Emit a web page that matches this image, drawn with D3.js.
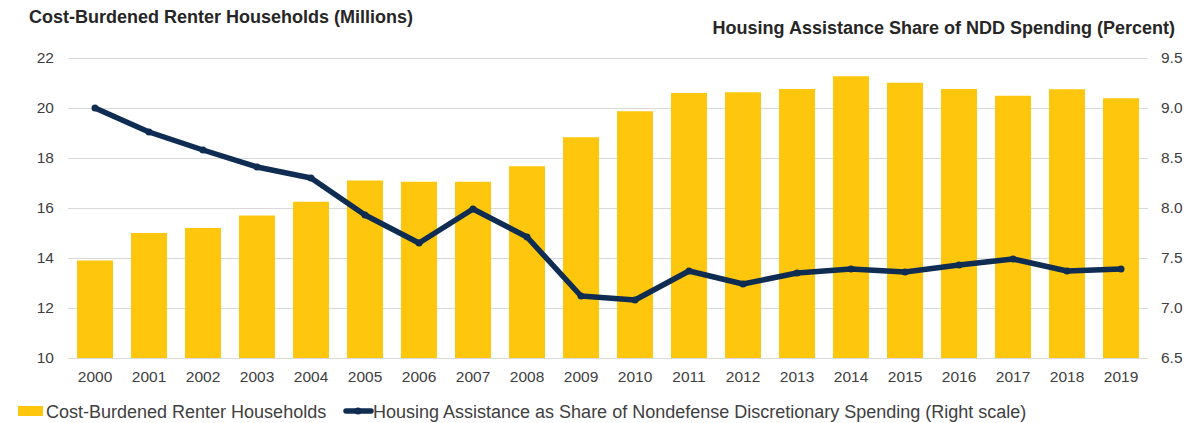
<!DOCTYPE html>
<html><head><meta charset="utf-8">
<script src="https://cdn.jsdelivr.net/npm/d3@7"></script>
<style>body{margin:0;background:#fff;} text{font-family:"Liberation Sans",Arial,sans-serif;}</style>
</head><body><svg id="c" width="1188" height="423"></svg>
<script>
const years = ["2000","2001","2002","2003","2004","2005","2006","2007","2008","2009","2010","2011","2012","2013","2014","2015","2016","2017","2018","2019"];
const renters = [13.9,15.0,15.2,15.7,16.25,17.1,17.05,17.05,17.67,18.83,19.87,20.6,20.63,20.76,21.27,21.01,20.76,20.49,20.75,20.39];
const shareNDD = [9.0,8.76,8.58,8.41,8.30,7.93,7.65,7.99,7.71,7.12,7.08,7.37,7.24,7.35,7.39,7.36,7.43,7.49,7.37,7.39];
const leftTicks = [10,12,14,16,18,20,22];
const rightTicks = [6.5,7.0,7.5,8.0,8.5,9.0,9.5];

const svg = d3.select("#c");
const L = 68, R = 1148, T = 58, B = 358;
const FF = "Liberation Sans, Arial, sans-serif";
const x = d3.scaleBand().domain(years).range([L, R]).paddingInner(1/3).paddingOuter(1/6);
const yL = d3.scaleLinear().domain([10, 22]).range([B, T]);
const yR = d3.scaleLinear().domain([6.5, 9.5]).range([B, T]);

// gridlines
svg.append("g").selectAll("line").data(leftTicks).join("line")
  .attr("x1", L).attr("x2", R).attr("y1", d => yL(d)+0.5).attr("y2", d => yL(d)+0.5)
  .attr("stroke", "#d9d9d9").attr("stroke-width", 1);

// left axis
const axL = svg.append("g").attr("transform", `translate(${L},0)`)
  .call(d3.axisLeft(yL).tickValues(leftTicks).tickSize(0).tickPadding(14).tickFormat(d3.format("d")));
axL.select(".domain").remove();
axL.selectAll("text").attr("font-size", 15.5).attr("fill", "#404040").style("font-family", FF);

// right axis
const axR = svg.append("g").attr("transform", `translate(${R},0)`)
  .call(d3.axisRight(yR).tickValues(rightTicks).tickSize(0).tickPadding(13).tickFormat(d3.format(".1f")));
axR.select(".domain").remove();
axR.selectAll("text").attr("font-size", 15.5).attr("fill", "#404040").style("font-family", FF);

// bars
svg.append("g").selectAll("rect").data(renters).join("rect")
  .attr("x", (d,i) => x(years[i])).attr("width", x.bandwidth())
  .attr("y", d => yL(d)).attr("height", d => B - yL(d))
  .attr("fill", "#fec60c");

// x axis
const axX = svg.append("g").attr("transform", `translate(0,${B})`)
  .call(d3.axisBottom(x).tickSize(0).tickPadding(13));
axX.select(".domain").remove();
axX.selectAll("text").attr("font-size", 15.5).attr("fill", "#404040").style("font-family", FF);

// line
const line = d3.line().x((d,i) => x(years[i]) + x.bandwidth()/2).y(d => yR(d));
svg.append("path").datum(shareNDD).attr("d", line)
  .attr("fill", "none").attr("stroke", "#0f2d52").attr("stroke-width", 5.5)
  .attr("stroke-linejoin", "round").attr("stroke-linecap", "round");
svg.append("g").selectAll("circle").data(shareNDD).join("circle")
  .attr("cx", (d,i) => x(years[i]) + x.bandwidth()/2).attr("cy", d => yR(d)).attr("r", 3.5)
  .attr("fill", "#0f2d52");

// titles
svg.append("text").attr("x", 29).attr("y", 23).attr("font-size", 18).attr("font-weight", "bold")
  .attr("fill", "#262626").text("Cost-Burdened Renter Households (Millions)");
svg.append("text").attr("x", 1175).attr("y", 34).attr("text-anchor", "end").attr("font-size", 18).attr("font-weight", "bold")
  .attr("fill", "#262626").text("Housing Assistance Share of NDD Spending (Percent)");

// legend
const lg = svg.append("g");
lg.append("rect").attr("x", 18).attr("y", 406).attr("width", 25).attr("height", 10).attr("fill", "#fec60c");
lg.append("text").attr("x", 46).attr("y", 418).attr("font-size", 18).attr("fill", "#404040").text("Cost-Burdened Renter Households");
lg.append("line").attr("x1", 346).attr("x2", 371).attr("y1", 411).attr("y2", 411)
  .attr("stroke", "#0f2d52").attr("stroke-width", 5.5).attr("stroke-linecap", "round");
lg.append("circle").attr("cx", 358).attr("cy", 411).attr("r", 3.5).attr("fill", "#0f2d52");
lg.append("text").attr("x", 373).attr("y", 418).attr("font-size", 18).attr("fill", "#404040").text("Housing Assistance as Share of Nondefense Discretionary Spending (Right scale)");
</script></body></html>
